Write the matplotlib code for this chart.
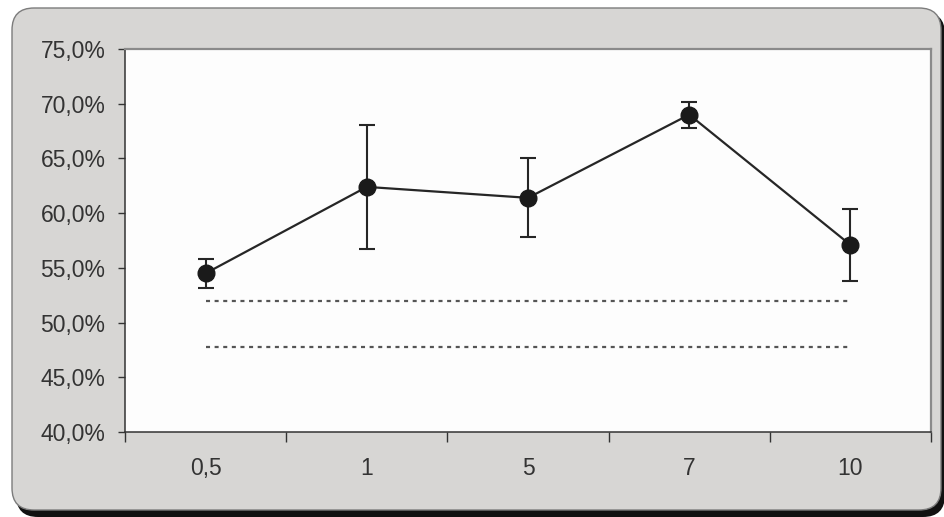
import matplotlib
matplotlib.use('Agg')
import matplotlib.pyplot as plt
from matplotlib.patches import FancyBboxPatch
from matplotlib.ticker import FixedLocator, FuncFormatter

plt.rcParams['font.family'] = ['Liberation Sans', 'DejaVu Sans']
plt.rcParams['lines.scale_dashes'] = False

# dose groups and measured response (%), with standard deviation
categories = ['0,5', '1', '5', '7', '10']
means = [54.5, 62.4, 61.4, 69.0, 57.1]
errors = [1.3, 5.65, 3.6, 1.2, 3.3]
# reference limits drawn as dotted lines
upper_limit = 52.0
lower_limit = 47.8

TEXT_COLOR = '#333333'
CHART_BG = '#d7d6d4'

fig = plt.figure(figsize=(9.45, 5.17), dpi=100)
fig.patch.set_facecolor('white')

# chart area: grey rounded panel with a dark shadow at the bottom right
shadow = FancyBboxPatch((0.16, 0.0), 9.29, 5.05,
                        boxstyle='round,pad=0,rounding_size=0.22',
                        transform=fig.dpi_scale_trans,
                        facecolor='#111111', edgecolor='none', zorder=0)
panel = FancyBboxPatch((0.12, 0.07), 9.29, 5.02,
                       boxstyle='round,pad=0,rounding_size=0.22',
                       transform=fig.dpi_scale_trans,
                       facecolor=CHART_BG, edgecolor='#7c7c7c', linewidth=1.0, zorder=1)
fig.add_artist(shadow)
fig.add_artist(panel)

ax = fig.add_axes([0.1323, 0.1644, 0.8529, 0.7408])
ax.set_zorder(2)
ax.set_facecolor('#fdfdfd')

x = list(range(len(categories)))

ax.plot([x[0], x[-1]], [upper_limit, upper_limit], color='#555555', lw=1.6,
        dashes=(2.9, 3.3))
ax.plot([x[0], x[-1]], [lower_limit, lower_limit], color='#555555', lw=1.6,
        dashes=(2.9, 3.3))

ax.errorbar(x, means, yerr=errors, color='#262626', lw=1.6, elinewidth=1.5,
            capsize=5.8, capthick=1.5, marker='o', markersize=12,
            markerfacecolor='#1a1a1a', markeredgecolor='#1a1a1a', zorder=3)

ax.set_xlim(-0.5, len(categories) - 0.5)
ax.set_ylim(40, 75)
ax.set_yticks([40, 45, 50, 55, 60, 65, 70, 75])
ax.yaxis.set_major_formatter(FuncFormatter(lambda v, p: f'{v:.1f}%'.replace('.', ',')))

# category labels sit between the boundary tick marks
ax.set_xticks(x)
ax.set_xticklabels(categories)
ax.xaxis.set_minor_locator(FixedLocator([i - 0.5 for i in range(len(categories) + 1)]))
ax.tick_params(axis='x', which='major', length=0, pad=18, labelsize=16.5, labelcolor=TEXT_COLOR)
ax.tick_params(axis='x', which='minor', length=7, width=1.0, color='#333333')
ax.tick_params(axis='y', length=5, width=1.0, pad=9, labelsize=16.5,
               labelcolor=TEXT_COLOR, color='#333333')

for side in ('left', 'bottom'):
    ax.spines[side].set_color('#333333')
    ax.spines[side].set_linewidth(1.1)
for side in ('top', 'right'):
    ax.spines[side].set_color('#8a8a8a')
    ax.spines[side].set_linewidth(1.6)

fig.savefig('out.png', dpi=100, facecolor=fig.get_facecolor())
